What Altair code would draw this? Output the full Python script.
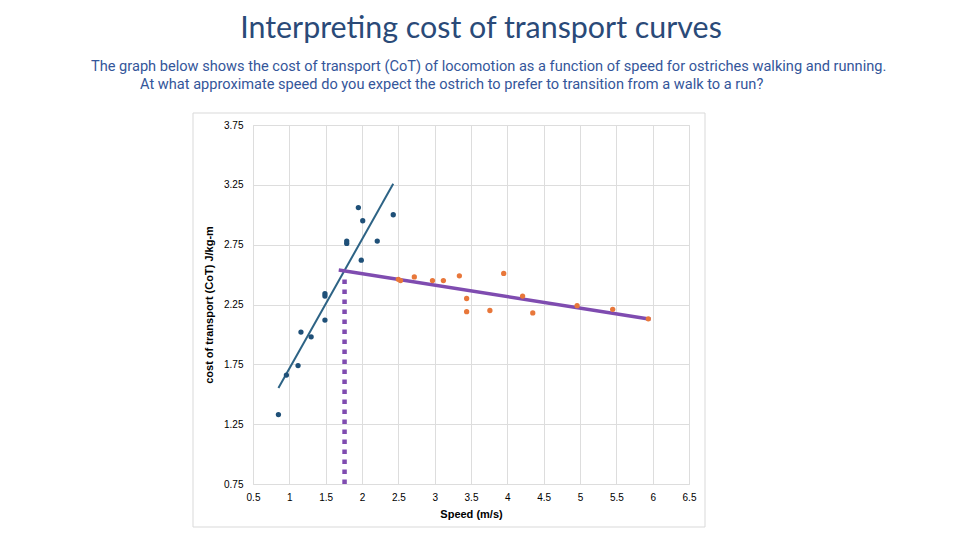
import altair as alt
import pandas as pd

# Walking trials (blue) and running trials (orange): speed in m/s, CoT in J/kg-m
walk_speed = [0.85, 0.96, 1.12, 1.16, 1.30, 1.49, 1.49, 1.49, 1.79, 1.79, 1.95, 1.99, 2.01, 2.21, 2.43]
walk_cot = [1.33, 1.66, 1.74, 2.02, 1.98, 2.12, 2.32, 2.34, 2.76, 2.78, 3.06, 2.62, 2.95, 2.78, 3.00]

run_speed = [2.50, 2.53, 2.72, 2.97, 3.12, 3.34, 3.44, 3.44, 3.76, 3.95, 4.21, 4.35, 4.96, 5.45, 5.94]
run_cot = [2.46, 2.45, 2.48, 2.45, 2.45, 2.49, 2.30, 2.19, 2.20, 2.51, 2.32, 2.18, 2.24, 2.21, 2.13]

# Range each trend line is drawn over
walk_fit_extent = [0.85, 2.43]
run_fit_extent = [1.68, 5.97]

# Dotted marker for the walk-run transition speed
transition_speed = 1.76
transition_top = 2.47

x_ticks = [0.5, 1.0, 1.5, 2.0, 2.5, 3.0, 3.5, 4.0, 4.5, 5.0, 5.5, 6.0, 6.5]
y_ticks = [0.75, 1.25, 1.75, 2.25, 2.75, 3.25, 3.75]

title_text = "Interpreting cost of transport curves"
subtitle_1 = ("The graph below shows the cost of transport (CoT) of locomotion as a function "
              "of speed for ostriches walking and running.")
subtitle_2 = "At what approximate speed do you expect the ostrich to prefer to transition from a walk to a run?"

walk = pd.DataFrame({"speed": walk_speed, "cot": walk_cot})
run = pd.DataFrame({"speed": run_speed, "cot": run_cot})
transition = pd.DataFrame({"speed": [transition_speed], "lo": [y_ticks[0]], "hi": [transition_top]})

W, H = 436, 359
BLUE = "#1f5078"
LINE_BLUE = "#2d6385"
ORANGE = "#e8773a"
PURPLE = "#7f4cb0"
GREY = "#595959"

x_enc = alt.X(
    "speed:Q",
    scale=alt.Scale(domain=[0.5, 6.5], nice=False, zero=False),
    axis=alt.Axis(
        values=x_ticks, labelExpr="format(datum.value, '~g')", title="Speed (m/s)",
        grid=True, domain=False, ticks=False, labelPadding=8, titlePadding=6,
        labelOverlap=False, labelFlush=False, labelBound=False,
    ),
)
y_enc = alt.Y(
    "cot:Q",
    scale=alt.Scale(domain=[0.75, 3.75], nice=False, zero=False),
    axis=alt.Axis(
        values=y_ticks, format=".2f", title="cost of transport (CoT) J/kg-m", grid=True,
        domain=False, ticks=False, labelPadding=10, titlePadding=9, labelOverlap=False,
        labelFlush=False,
    ),
)

# Outer chart border (no fill so axes and grid stay visible)
frame = alt.Chart(pd.DataFrame({"k": [0]})).mark_rect(
    fill="transparent", stroke="#d9d9d9", strokeWidth=1
).encode(x=alt.value(-60), x2=alt.value(452), y=alt.value(-12), y2=alt.value(402))

walk_pts = alt.Chart(walk).mark_circle(size=28, opacity=1, color=BLUE).encode(x=x_enc, y=y_enc)
run_pts = alt.Chart(run).mark_circle(size=28, opacity=1, color=ORANGE).encode(x=x_enc, y=y_enc)

walk_fit = alt.Chart(walk).transform_regression(
    "speed", "cot", extent=walk_fit_extent
).mark_line(color=LINE_BLUE, strokeWidth=2).encode(x=x_enc, y=y_enc)

run_fit = alt.Chart(run).transform_regression(
    "speed", "cot", extent=run_fit_extent
).mark_line(color=PURPLE, strokeWidth=3.5).encode(x=x_enc, y=y_enc)

trans_rule = alt.Chart(transition).mark_rule(
    color=PURPLE, strokeWidth=4.5, strokeDash=[4.5, 5.5], strokeCap="butt"
).encode(x=x_enc, y=alt.Y("lo:Q", scale=alt.Scale(domain=[0.75, 3.75], nice=False, zero=False)), y2="hi:Q")


def label(text, x, y, size, color, font, align="left", weight="normal"):
    return alt.Chart(pd.DataFrame({"t": [text]})).mark_text(
        align=align, baseline="alphabetic", fontSize=size, color=color, font=font,
        fontWeight=weight,
    ).encode(text="t:N", x=alt.value(x), y=alt.value(y))


title = label(title_text, 228, -87, 30.4, "#2a4a78", "Lato", align="center")
sub1 = label(subtitle_1, -162, -54, 14.6, "#34569a", "Roboto")
sub2 = label(subtitle_2, -113, -36, 14.6, "#34569a", "Roboto")

chart = alt.layer(
    walk_fit, run_fit, trans_rule, walk_pts, run_pts, frame, title, sub1, sub2
).properties(
    width=W, height=H,
    autosize=alt.AutoSizeParams(type="none"),
    padding={"left": 253, "top": 125, "right": 271, "bottom": 56},
).configure_view(stroke=None).configure_axis(
    gridColor="#d9d9d9", gridWidth=1, labelColor=GREY, labelFont="Inter", labelFontSize=9,
    titleColor=GREY, titleFont="Inter", titleFontSize=10, titleFontWeight="bold",
    labelOverlap=False,
).configure(background="white")

chart.save("out.html", embed_options={"renderer": "svg", "actions": False})
